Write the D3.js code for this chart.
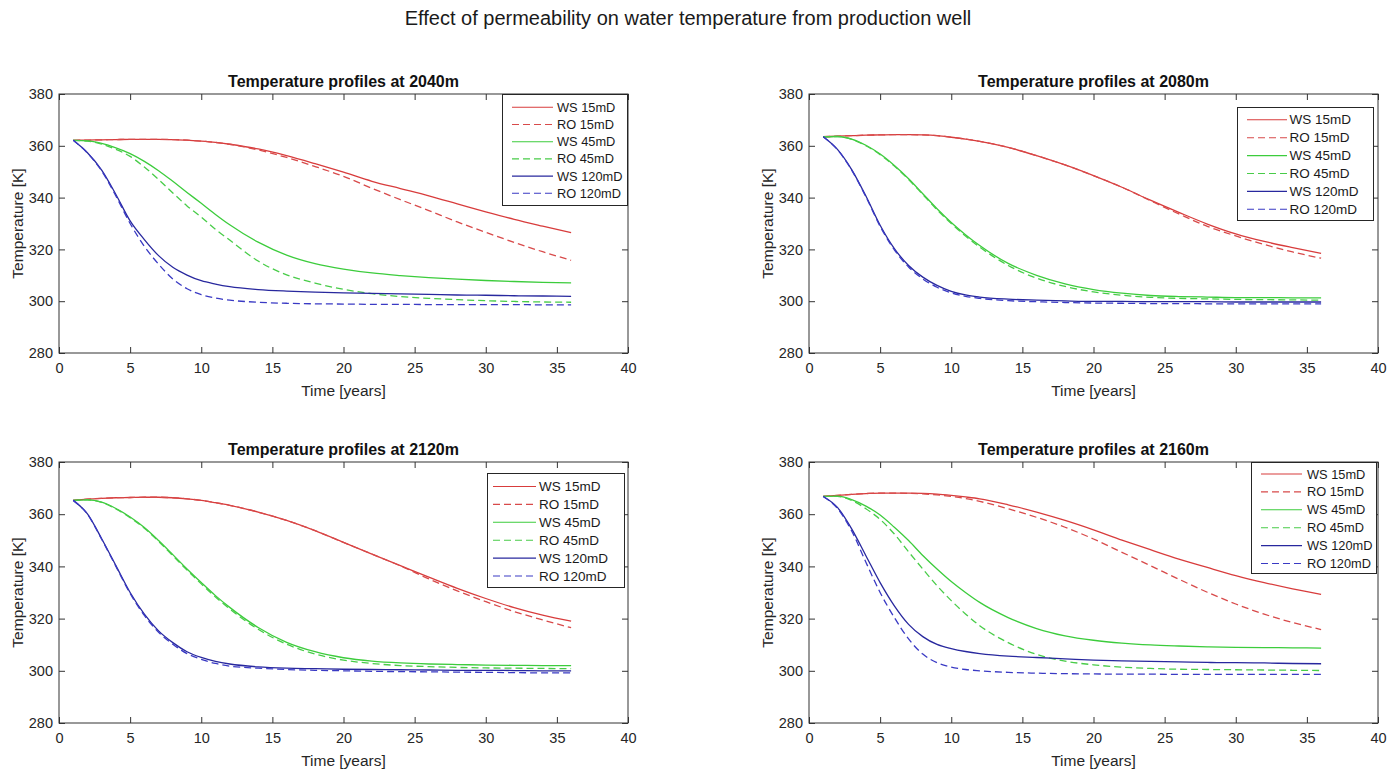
<!DOCTYPE html>
<html><head><meta charset="utf-8">
<script src="https://cdn.jsdelivr.net/npm/d3@7"></script>
<style>
body{margin:0;background:#fff}
svg{display:block}
text{font-family:"Liberation Sans",Arial,Helvetica,sans-serif}
</style>
</head><body>
<svg id="c" width="1400" height="771"></svg>
<script>
// ---------------- DATA ----------------
const figTitle = "Effect of permeability on water temperature from production well";
const panelTitles = ["Temperature profiles at 2040m","Temperature profiles at 2080m","Temperature profiles at 2120m","Temperature profiles at 2160m"];
const xLabel = "Time [years]";
const yLabel = "Temperature [K]";
const xTicks = [0,5,10,15,20,25,30,35,40];
const yTicks = [280,300,320,340,360,380];
const seriesNames = ["WS 15mD","RO 15mD","WS 45mD","RO 45mD","WS 120mD","RO 120mD"];
const times = [1,2,3,4,5,6,7,8,9,10,11,12,14,16,18,20,22,24,26,28,30,32,34,36];

// 2040m
const ws15_2040  = [362.1,362.2,362.3,362.4,362.5,362.5,362.5,362.4,362.2,361.8,361.3,360.6,358.8,356.2,353.1,349.8,346.3,343.5,340.7,337.6,334.5,331.6,329.0,326.5];
const ro15_2040  = [362.1,362.2,362.3,362.4,362.5,362.5,362.5,362.4,362.2,361.8,361.3,360.6,358.4,355.5,352.0,348.2,343.6,339.2,335.0,330.6,326.6,322.7,319.1,315.8];
const ws45_2040  = [362.1,361.9,360.9,359.2,357.0,354.0,350.4,346.3,342.0,337.8,333.5,329.5,322.8,317.8,314.5,312.4,310.9,309.9,309.1,308.5,308.0,307.6,307.3,307.1];
const ro45_2040  = [362.1,361.8,360.6,358.6,355.9,351.8,347.0,341.8,336.8,332.5,327.8,323.6,315.5,310.2,307.0,304.6,302.9,301.8,301.1,300.6,300.2,299.9,299.7,299.6];
const ws120_2040 = [362.1,357.3,350.6,341.2,331.0,323.8,317.6,313.1,310.1,307.9,306.6,305.6,304.5,303.9,303.5,303.2,303.0,302.8,302.6,302.4,302.3,302.1,302.0,301.9];
const ro120_2040 = [362.1,357.2,350.3,340.6,330.0,321.2,314.3,308.6,304.8,302.5,301.2,300.4,299.6,299.2,299.0,298.9,298.8,298.8,298.7,298.7,298.7,298.7,298.6,298.6];
// 2080m
const ws15_2080  = [363.5,363.7,363.9,364.1,364.2,364.3,364.3,364.2,363.9,363.3,362.6,361.7,359.4,356.2,352.6,348.5,344.0,339.0,334.3,329.8,326.0,323.1,320.7,318.5];
const ro15_2080  = [363.5,363.7,363.9,364.1,364.2,364.3,364.3,364.2,363.9,363.3,362.6,361.7,359.4,356.2,352.6,348.5,344.0,338.8,333.7,328.9,325.2,321.9,319.0,316.6];
const ws45_2080  = [363.5,363.6,362.6,360.2,356.8,352.4,347.3,341.5,335.7,330.4,325.7,321.5,314.6,310.0,306.7,304.5,303.1,302.2,301.8,301.6,301.4,301.4,301.3,301.3];
const ro45_2080  = [363.5,363.6,362.5,360.0,356.6,352.2,347.0,341.2,335.3,330.0,325.2,320.9,313.8,308.9,305.7,303.6,302.3,301.5,301.1,300.9,300.7,300.6,300.5,300.4];
const ws120_2080 = [363.5,358.6,350.8,340.6,329.3,320.3,313.8,309.3,306.1,303.8,302.4,301.6,300.8,300.4,300.1,299.9,299.9,299.8,299.8,299.8,299.7,299.7,299.7,299.7];
const ro120_2080 = [363.5,358.5,350.6,340.3,328.9,319.8,313.2,308.6,305.4,303.2,301.9,301.1,300.2,299.8,299.5,299.3,299.2,299.1,299.1,299.0,299.0,299.0,299.0,299.0];
// 2120m
const ws15_2120  = [365.3,365.8,366.1,366.3,366.4,366.5,366.5,366.3,365.9,365.3,364.4,363.4,360.8,357.6,353.7,349.2,344.7,340.3,335.9,331.6,327.7,324.2,321.3,319.0];
const ro15_2120  = [365.3,365.8,366.1,366.3,366.4,366.5,366.5,366.3,365.9,365.3,364.4,363.4,360.8,357.6,353.7,349.2,344.7,340.2,335.2,330.6,326.5,322.7,319.5,316.5];
const ws45_2120  = [365.3,365.5,364.6,362.2,358.9,354.9,349.9,344.5,339.0,333.8,328.8,324.3,316.6,310.9,307.3,305.0,303.7,303.0,302.6,302.4,302.2,302.1,302.0,302.0];
const ro45_2120  = [365.3,365.5,364.5,362.0,358.7,354.6,349.6,344.1,338.6,333.3,328.3,323.7,315.9,310.2,306.4,304.1,302.8,302.0,301.6,301.3,301.1,301.0,300.9,300.8];
const ws120_2120 = [365.3,360.1,350.6,340.3,330.0,321.7,315.3,310.8,307.3,305.1,303.6,302.6,301.5,301.0,300.8,300.6,300.5,300.4,300.3,300.2,300.2,300.1,300.0,300.0];
const ro120_2120 = [365.3,360.0,350.4,340.0,329.6,321.2,314.8,310.2,306.6,304.4,302.8,301.8,301.0,300.5,300.2,300.0,299.8,299.7,299.6,299.5,299.4,299.3,299.2,299.2];
// 2160m
const ws15_2160  = [366.8,367.2,367.6,367.9,368.1,368.1,368.1,368.0,367.7,367.2,366.6,365.9,363.6,360.8,357.6,354.0,350.1,346.4,342.8,339.6,336.5,333.8,331.4,329.3];
const ro15_2160  = [366.8,367.2,367.6,367.9,368.1,368.1,368.0,367.8,367.4,366.8,366.0,364.9,362.1,358.8,355.0,350.5,345.4,340.3,335.1,330.1,325.6,321.7,318.5,315.8];
const ws45_2160  = [366.8,366.9,365.6,363.1,359.7,355.0,349.9,344.2,339.0,334.2,330.0,326.2,320.4,316.2,313.4,311.7,310.6,309.9,309.5,309.2,309.0,308.9,308.8,308.7];
const ro45_2160  = [366.8,366.8,365.3,362.1,358.0,352.4,345.6,339.0,332.6,326.9,321.8,317.3,310.8,306.3,303.7,302.3,301.4,300.9,300.6,300.5,300.4,300.3,300.2,300.1];
const ws120_2160 = [366.8,362.6,354.4,344.1,333.8,324.9,317.8,313.1,310.1,308.5,307.4,306.6,305.6,305.1,304.6,304.1,303.8,303.6,303.4,303.2,303.1,303.0,302.8,302.7];
const ro120_2160 = [366.8,362.2,353.6,341.6,330.0,320.4,312.2,306.4,303.1,301.4,300.5,300.0,299.4,299.1,298.9,298.8,298.7,298.7,298.6,298.6,298.6,298.6,298.6,298.6];

const panelData = [
  [ws15_2040, ro15_2040, ws45_2040, ro45_2040, ws120_2040, ro120_2040],
  [ws15_2080, ro15_2080, ws45_2080, ro45_2080, ws120_2080, ro120_2080],
  [ws15_2120, ro15_2120, ws45_2120, ro45_2120, ws120_2120, ro120_2120],
  [ws15_2160, ro15_2160, ws45_2160, ro45_2160, ws120_2160, ro120_2160]
];

// ---------------- STYLE / LAYOUT ----------------
const seriesColors = ["#d83c3c","#d84a4a","#3ccc3c","#48cc48","#28289e","#3a3ac4"];
const seriesDash   = [null,"7,4",null,"7,4",null,"7,4"];
const axisColor = "#333333";
const textColor = "#262626";

const layout = [
  {left:59, right:628, top:94, bottom:353,
   leg:{x:502, y:94, w:126, h:112, fs:12.8, row0:13.3, dy:17.2, l0:10, l1:51, tx:55}},
  {left:809, right:1378, top:94, bottom:353,
   leg:{x:1237, y:107, w:137, h:114, fs:13.5, row0:12.8, dy:17.9, l0:10, l1:50, tx:52.5}},
  {left:59, right:628, top:462, bottom:723,
   leg:{x:487, y:473, w:138, h:115, fs:13.5, row0:13.5, dy:17.9, l0:6, l1:49, tx:52}},
  {left:809, right:1378, top:462, bottom:723,
   leg:{x:1251, y:462, w:126, h:112, fs:12.8, row0:12, dy:17.9, l0:10, l1:51, tx:56}}
];

const svg = d3.select("#c");
svg.append("rect").attr("width",1400).attr("height",771).attr("fill","#fff");

svg.append("text")
  .attr("x",688).attr("y",18)
  .attr("text-anchor","middle").attr("dominant-baseline","central")
  .style("font-size","20px").attr("fill","#1a1a1a")
  .text(figTitle);

layout.forEach((L, pi) => {
  const g = svg.append("g");
  const x = d3.scaleLinear().domain([0,40]).range([L.left, L.right]);
  const y = d3.scaleLinear().domain([280,380]).range([L.bottom, L.top]);

  const styleAxis = sel => {
    sel.select(".domain").remove();
    sel.selectAll("line").attr("stroke",axisColor).attr("stroke-width",1);
    sel.selectAll("text").attr("fill",textColor).style("font-size","14.5px")
       .style("font-family",'"Liberation Sans",Arial,sans-serif');
  };
  g.append("g").attr("transform",`translate(0,${L.bottom})`)
    .call(d3.axisBottom(x).tickValues(xTicks).tickSize(-6).tickPadding(9.5).tickFormat(d3.format("d")))
    .call(styleAxis);
  g.append("g").attr("transform",`translate(0,${L.top})`)
    .call(d3.axisTop(x).tickValues(xTicks).tickSize(-6).tickFormat(""))
    .call(styleAxis);
  g.append("g").attr("transform",`translate(${L.left},0)`)
    .call(d3.axisLeft(y).tickValues(yTicks).tickSize(-6).tickPadding(6).tickFormat(d3.format("d")))
    .call(styleAxis);
  g.append("g").attr("transform",`translate(${L.right},0)`)
    .call(d3.axisRight(y).tickValues(yTicks).tickSize(-6).tickFormat(""))
    .call(styleAxis);

  const line = d3.line().x((d,i)=>x(times[i])).y(d=>y(d)).curve(d3.curveMonotoneX);
  panelData[pi].forEach((vals, si) => {
    g.append("path").datum(vals)
      .attr("d", line)
      .attr("fill","none")
      .attr("stroke", seriesColors[si])
      .attr("stroke-width",1.3)
      .attr("stroke-dasharray", seriesDash[si]);
  });

  g.append("rect")
    .attr("x",L.left).attr("y",L.top)
    .attr("width",L.right-L.left).attr("height",L.bottom-L.top)
    .attr("fill","none").attr("stroke",axisColor).attr("stroke-width",1);

  g.append("text")
    .attr("x",(L.left+L.right)/2).attr("y",L.top-12.5)
    .attr("text-anchor","middle").attr("dominant-baseline","central")
    .style("font-size","16px").style("font-weight","bold").attr("fill","#111")
    .text(panelTitles[pi]);
  g.append("text")
    .attr("x",(L.left+L.right)/2).attr("y",L.bottom+37.5)
    .attr("text-anchor","middle").attr("dominant-baseline","central")
    .style("font-size","15.5px").attr("fill",textColor)
    .text(xLabel);
  g.append("text")
    .attr("transform",`translate(${L.left-42},${(L.top+L.bottom)/2}) rotate(-90)`)
    .attr("text-anchor","middle").attr("dominant-baseline","central")
    .style("font-size","15.5px").attr("fill",textColor)
    .text(yLabel);

  const lg = L.leg;
  const leg = g.append("g").attr("transform",`translate(${lg.x},${lg.y})`);
  leg.append("rect").attr("x",0.5).attr("y",0.5).attr("width",lg.w-1).attr("height",lg.h-1)
    .attr("fill","#fff").attr("stroke","#262626").attr("stroke-width",1);
  seriesNames.forEach((name, si) => {
    const yy = lg.row0 + si*lg.dy;
    leg.append("line")
      .attr("x1",lg.l0).attr("x2",lg.l1).attr("y1",yy).attr("y2",yy)
      .attr("stroke",seriesColors[si]).attr("stroke-width",1.1)
      .attr("stroke-dasharray",seriesDash[si]);
    leg.append("text")
      .attr("x",lg.tx).attr("y",yy)
      .attr("dominant-baseline","central")
      .style("font-size",lg.fs+"px").attr("fill","#1a1a1a")
      .text(name);
  });
});
</script>
</body></html>
